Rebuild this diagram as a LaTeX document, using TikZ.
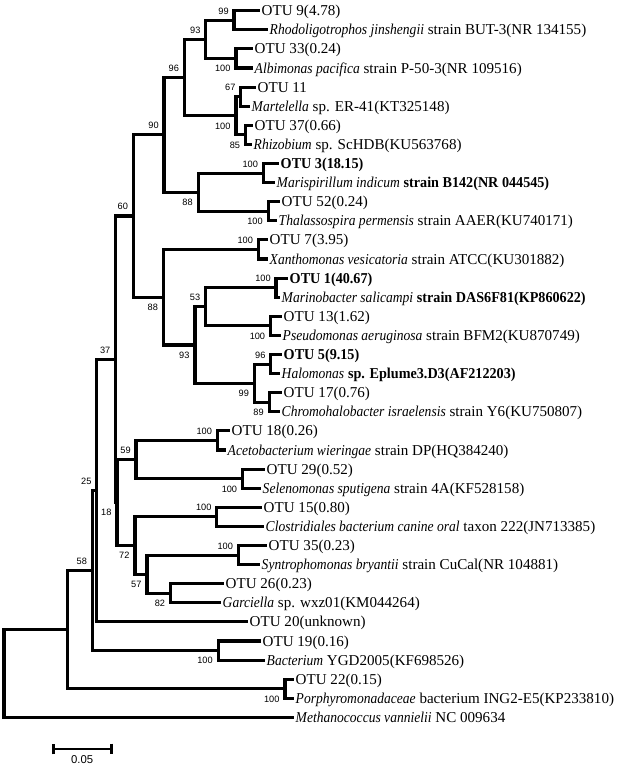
\documentclass[tikz,border=0pt]{standalone}
\usepackage{fontspec}
\setmainfont{Liberation Serif}[ItalicFeatures={FakeStretch=0.9}, BoldFeatures={FakeStretch=0.94}]
\newfontfamily\bootfont{Liberation Sans}
\usetikzlibrary{arrows.meta}

\tikzset{
  branch/.style={line width=2.3pt, line cap=rect},
  taxon/.style={anchor=base west, inner sep=0pt, xshift=2.6pt, yshift=-3.8pt,
    font=\fontsize{11.3}{13}\selectfont},
  boot/.style={inner sep=0pt, font=\bootfont\fontsize{6.9}{8}\selectfont},
  bootup/.style={boot, anchor=south east, xshift=-3.8pt, yshift=4.3pt},
  bootdn/.style={boot, anchor=north east, xshift=-4pt, yshift=-5pt}
}

\begin{document}
\begin{tikzpicture}[x=0.75pt, y=-0.75pt]
  \useasboundingbox (0,0) rectangle (625,770);

  % leaves: index / tip x / label
  \foreach \i/\x/\txt [evaluate=\i as \y using 10.7+19.1*(\i-1)] in {
    1/258/{OTU 9(4.78)},
    2/266/{\textit{Rhodoligotrophos jinshengii} strain BUT-3(NR 134155)},
    3/251/{OTU 33(0.24)},
    4/251/{\textit{Albimonas pacifica} strain P-50-3(NR 109516)},
    5/254/{OTU 11},
    6/248/{\textit{Martelella} sp. ER-41(KT325148)},
    7/251/{OTU 37(0.66)},
    8/250/{\textit{Rhizobium} sp. ScHDB(KU563768)},
    9/277/{\textbf{OTU 3(18.15)}},
    10/273/{\textit{Marispirillum indicum} \textbf{strain B142(NR 044545)}},
    11/278/{OTU 52(0.24)},
    12/275/{\textit{Thalassospira permensis} strain AAER(KU740171)},
    13/266/{OTU 7(3.95)},
    14/266/{\textit{Xanthomonas vesicatoria} strain ATCC(KU301882)},
    15/286/{\textbf{OTU 1(40.67)}},
    16/278/{\textit{Marinobacter salicampi} \textbf{strain DAS6F81(KP860622)}},
    17/280/{OTU 13(1.62)},
    18/279/{\textit{Pseudomonas aeruginosa} strain BFM2(KU870749)},
    19/280/{\textbf{OTU 5(9.15)}},
    20/278/{\textit{Halomonas} \textbf{sp. Eplume3.D3(AF212203)}},
    21/280/{OTU 17(0.76)},
    22/278/{\textit{Chromohalobacter israelensis} strain Y6(KU750807)},
    23/228/{OTU 18(0.26)},
    24/224/{\textit{Acetobacterium wieringae} strain DP(HQ384240)},
    25/263/{OTU 29(0.52)},
    26/259/{\textit{Selenomonas sputigena} strain 4A(KF528158)},
    27/260/{OTU 15(0.80)},
    28/262/{\textit{Clostridiales bacterium canine oral} taxon 222(JN713385)},
    29/265/{OTU 35(0.23)},
    30/258/{\textit{Syntrophomonas bryantii} strain CuCal(NR 104881)},
    31/222/{OTU 26(0.23)},
    32/219/{\textit{Garciella} sp. wxz01(KM044264)},
    33/246/{OTU 20(unknown)},
    34/259/{OTU 19(0.16)},
    35/263/{\textit{Bacterium} YGD2005(KF698526)},
    36/292/{OTU 22(0.15)},
    37/292/{\textit{Porphyromonadaceae} bacterium ING2-E5(KP233810)},
    38/292/{\textit{Methanococcus vannielii} NC 009634}}
  {
    \coordinate (L\i) at (\x,\y);
    \node[taxon] (t\i) at (L\i) {\txt};
  }

  % internal nodes
  \foreach \n/\x/\y in {A/234/20.3, B/236/58.5, C/205.7/39.4, D/240.7/96.7,
      E/245.7/134.9, F/236/115.8, G/184.3/77.6, H/263.3/173.1, I/268.3/211.3,
      J/198.3/192.2, K/164/134.9, M/258.3/249.5, N/276/287.7, O/270.7/325.9,
      P/205.5/306.8, Q/270.7/364.1, R/269.3/402.3, S/254.5/383.2, T/195/345.0,
      U/163.5/297.2, V/133.3/216.0, W/217.3/440.5, X/242.7/478.7, Y/136/459.6,
      Z/216.7/516.9, AA/238.3/555.1, AB/170.7/593.3, AC/147/574.2,
      AD/135/545.6, AE/117/502.6, AF/115.7/359.3, AG/96.7/490.6,
      AH/218.3/650.6, AI/92.3/570.6, AJ/285/688.8, AK/67.7/629.7, R0/4/673.6}
    \coordinate (\n) at (\x,\y);

  % branches: node / upper child / lower child
  \foreach \n/\a/\b in {A/L1/L2, B/L3/L4, C/A/B, D/L5/L6, E/L7/L8, F/D/E,
      G/C/F, H/L9/L10, I/L11/L12, J/H/I, K/G/J, M/L13/L14, N/L15/L16,
      O/L17/L18, P/N/O, Q/L19/L20, R/L21/L22, S/Q/R, T/P/S, U/M/T, V/K/U,
      W/L23/L24, X/L25/L26, Y/W/X, Z/L27/L28, AA/L29/L30, AB/L31/L32,
      AC/AA/AB, AD/Z/AC, AE/Y/AD, AF/V/AE, AG/AF/L33, AH/L34/L35, AI/AG/AH,
      AJ/L36/L37, AK/AI/AJ, R0/AK/L38}
    \draw[branch] (\a) -| (\n) |- (\b);

  % bootstrap values
  \foreach \n/\v/\s in {A/99/bootup, B/100/bootdn, C/93/bootup, D/67/bootup,
      E/85/bootdn, F/100/bootdn, G/96/bootup, H/100/bootup, I/100/bootdn,
      J/88/bootdn, K/90/bootup, M/100/bootup, N/100/bootup, O/100/bootdn,
      P/53/bootup, Q/96/bootup, R/89/bootdn, S/99/bootdn, T/93/bootdn,
      U/88/bootdn, V/60/bootup, W/100/bootup, X/100/bootdn, Y/59/bootup,
      Z/100/bootup, AA/100/bootup, AB/82/bootdn, AC/57/bootdn, AD/72/bootdn,
      AE/18/bootdn, AF/37/bootup, AG/25/bootup, AH/100/bootdn, AI/58/bootup,
      AJ/100/bootdn}
    \node[\s] (b\n) at (\n) {\v};

  % scale bar
  \coordinate (s1) at (51.7,749);
  \coordinate (s2) at (112.7,749);
  \draw[line width=2.2pt, {Bar[width=8pt]}-{Bar[width=8pt]}] (s1) -- (s2)
    node[midway, below=3.5pt, inner sep=0pt, font=\bootfont\fontsize{8.5}{10}\selectfont] (sl) {0.05};
\end{tikzpicture}
\end{document}
